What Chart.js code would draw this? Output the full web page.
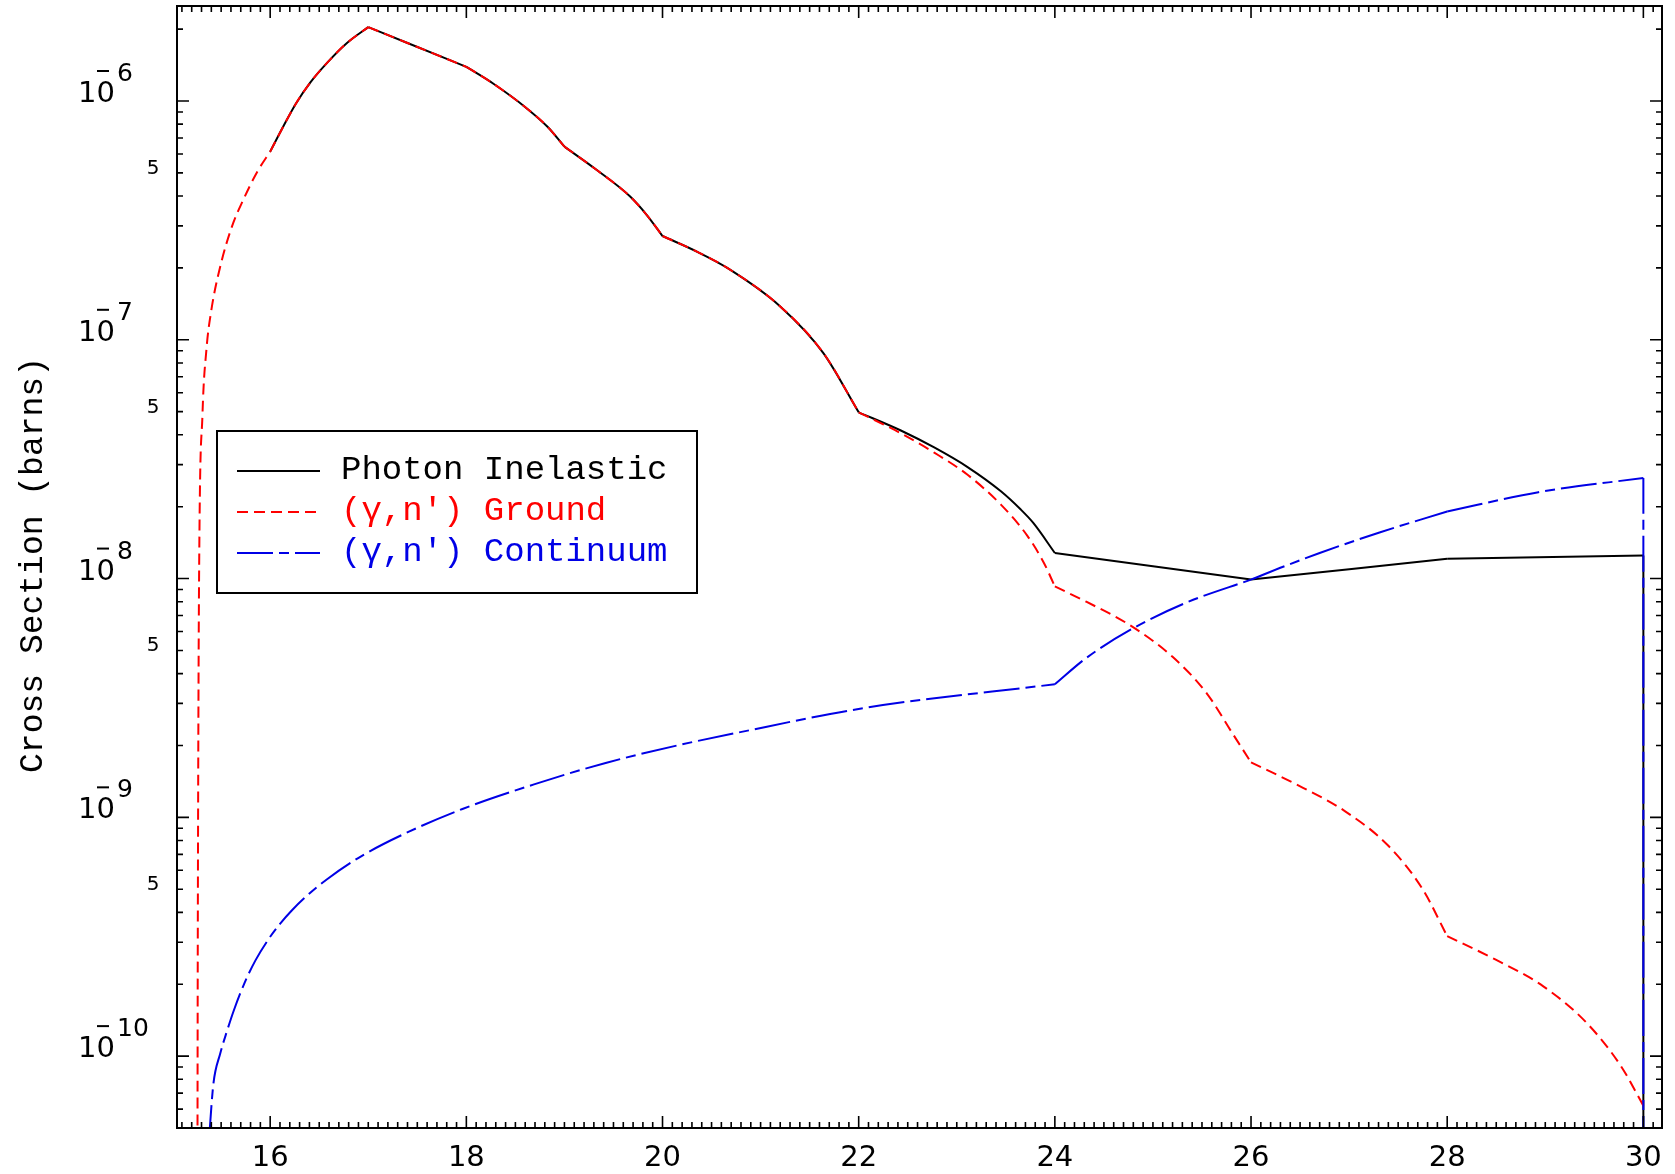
<!DOCTYPE html>
<html lang="en">

<head>
    <meta charset="UTF-8">
    <title>Cross Section</title>
    <script src="https://cdn.jsdelivr.net/npm/chart.js@4.4.1/dist/chart.umd.min.js"></script>
    <style>
        body { margin: 0; background: #ffffff; }
        #caixa { width: 1675px; height: 1174px; }
    </style>
</head>

<body>
    <div id="caixa"><canvas id="grafico" width="1675" height="1174"></canvas></div>
</body>

</html>

<script>
    // Photon Inelastic (preto)
    const inelasticoX = [16.00, 16.14, 16.26, 16.41, 16.58, 16.78, 17.00, 17.40, 18.00, 18.28, 18.62, 18.83,
        19.00, 19.33, 19.67, 19.84, 20.00, 20.36, 20.66, 21.20, 21.64, 22.00, 22.43, 22.77, 23.11, 23.45, 23.65, 23.78,
        24.00, 26.00, 28.00, 30.00, 30.00];
    const inelasticoY = [6.14e-7, 7.91e-7, 9.72e-7, 1.197e-6, 1.445e-6, 1.746e-6, 2.04e-6, 1.75e-6, 1.39e-6, 1.178e-6, 9.29e-7, 7.78e-7,
        6.44e-7, 5.14e-7, 3.98e-7, 3.33e-7, 2.72e-7, 2.33e-7, 2.0e-7, 1.38e-7, 8.8e-8, 4.97e-8, 4.17e-8, 3.54e-8, 2.93e-8, 2.32e-8, 1.95e-8, 1.71e-8,
        1.28e-8, 9.9e-9, 1.21e-8, 1.25e-8, 1e-12];
    const inelasticoQuebras = [16, 17, 18, 19, 20, 22, 24, 26, 28, 30];

    // (γ,n') Ground (vermelho)
    const groundX = [15.255, 15.26, 15.265, 15.275, 15.31, 15.35, 15.40, 15.49, 15.61, 15.73, 15.87,
        16.00, 16.14, 16.26, 16.41, 16.58, 16.78, 17.00, 17.40, 18.00, 18.28, 18.62, 18.83,
        19.00, 19.33, 19.67, 19.84, 20.00, 20.36, 20.66, 21.20, 21.64, 22.00,
        22.43, 22.77, 23.11, 23.45, 23.72, 23.89, 24.00, 24.32, 24.76, 25.20, 25.55, 25.81, 26.00,
        26.53, 26.96, 27.40, 27.75, 28.00, 28.49, 28.98, 29.42, 29.77, 30.00];
    const groundY = [1e-12, 1e-10, 1e-9, 1e-8, 4.9e-8, 9.1e-8, 1.33e-7, 2.02e-7, 2.98e-7, 3.89e-7, 5.07e-7,
        6.14e-7, 7.91e-7, 9.72e-7, 1.197e-6, 1.445e-6, 1.746e-6, 2.04e-6, 1.75e-6, 1.39e-6, 1.178e-6, 9.29e-7, 7.78e-7,
        6.44e-7, 5.14e-7, 3.98e-7, 3.33e-7, 2.72e-7, 2.33e-7, 2.0e-7, 1.38e-7, 8.8e-8, 4.97e-8,
        4.06e-8, 3.37e-8, 2.72e-8, 2.04e-8, 1.51e-8, 1.16e-8, 9.27e-9, 8.0e-9, 6.4e-9, 4.7e-9, 3.3e-9, 2.25e-9, 1.70e-9,
        1.33e-9, 1.06e-9, 7.6e-10, 5.0e-10, 3.18e-10, 2.54e-10, 1.96e-10, 1.38e-10, 9.1e-11, 6.2e-11];
    const groundQuebras = [16, 17, 18, 19, 20, 22, 24, 26, 28, 30];

    // (γ,n') Continuum (azul)
    const continuumX = [15.375, 15.42, 15.49, 15.56, 15.63, 15.74, 15.85, 16.00, 16.10, 16.22, 16.40, 16.58, 16.94,
        17.42, 17.96, 18.69, 19.42, 20.15, 20.76, 22.08, 24.00, 24.32, 24.80, 25.33, 26.00, 26.35, 26.70, 27.31,
        28.00, 28.93, 30.00, 30.00];
    const continuumY = [4.4e-11, 7.59e-11, 1.023e-10, 1.274e-10, 1.556e-10, 2.032e-10, 2.518e-10, 3.162e-10, 3.581e-10, 4.074e-10, 4.797e-10, 5.508e-10, 6.918e-10,
        8.73e-10, 1.084e-9, 1.374e-9, 1.69e-9, 2.0e-9, 2.26e-9, 2.88e-9, 3.61e-9, 4.65e-9, 6.2e-9, 7.9e-9, 9.9e-9, 1.13e-8, 1.28e-8, 1.56e-8,
        1.91e-8, 2.30e-8, 2.64e-8, 1e-12];
    const continuumQuebras = [24, 26, 28, 30];

    const ticksX = [16, 18, 20, 22, 24, 26, 28, 30];
    const expoentesY = [-6, -7, -8, -9, -10];
    const cincosY = [5e-7, 5e-8, 5e-9, 5e-10];

    const legendaNomes = ["Photon Inelastic", "(γ,n') Ground", "(γ,n') Continuum"];
    const cores = ["#000000", "#ff0000", "#0000e6"];
    const tracos = [[], [11, 6], [36, 6, 10, 6]];

    // quebra a serie nos cantos, cada pedaco vira uma curva suave
    function segmentar(xs, ys, quebras) {
        const partes = [];
        let atual = [];
        for (let i = 0; i < xs.length; i++) {
            atual.push({ x: xs[i], y: ys[i] });
            if (quebras.indexOf(xs[i]) !== -1 && atual.length > 1) {
                partes.push(atual);
                atual = [{ x: xs[i], y: ys[i] }];
            }
        }
        if (atual.length > 1) partes.push(atual);
        return partes;
    }

    const desenhoExtra = {
        id: 'desenhoExtra',
        afterDraw(chart) {
            const ctx = chart.ctx;
            const area = chart.chartArea;
            const sx = chart.scales.x;
            const sy = chart.scales.y;

            ctx.save();
            ctx.strokeStyle = '#000';
            ctx.fillStyle = '#000';
            ctx.lineWidth = 2;
            ctx.strokeRect(area.left, area.top, area.right - area.left, area.bottom - area.top);

            // ticks do eixo x (para dentro, embaixo e em cima)
            ctx.lineWidth = 1.6;
            for (let k = 151; k <= 301; k++) {
                const px = sx.getPixelForValue(k / 10);
                if (px < area.left + 1 || px > area.right - 1) continue;
                const tam = (k % 20 === 0) ? 12 : 6;
                ctx.beginPath();
                ctx.moveTo(px, area.bottom);
                ctx.lineTo(px, area.bottom - tam);
                ctx.moveTo(px, area.top);
                ctx.lineTo(px, area.top + tam);
                ctx.stroke();
            }

            // ticks do eixo y (log)
            for (let e = -11; e <= -6; e++) {
                for (let m = 1; m <= 9; m++) {
                    const v = m * Math.pow(10, e);
                    if (v < sy.min || v > sy.max) continue;
                    const py = sy.getPixelForValue(v);
                    const tam = (m === 1) ? 12 : 6;
                    ctx.beginPath();
                    ctx.moveTo(area.left, py);
                    ctx.lineTo(area.left + tam, py);
                    ctx.moveTo(area.right, py);
                    ctx.lineTo(area.right - tam, py);
                    ctx.stroke();
                }
            }

            // rotulos x
            ctx.font = '29px "DejaVu Sans"';
            ctx.textAlign = 'center';
            ctx.textBaseline = 'alphabetic';
            ticksX.forEach(function (t) {
                ctx.fillText(String(t), sx.getPixelForValue(t), 1166);
            });

            // rotulos y: 10 com expoente
            expoentesY.forEach(function (e) {
                const py = sy.getPixelForValue(Math.pow(10, e));
                ctx.font = '29px "DejaVu Sans"';
                ctx.textAlign = 'right';
                ctx.fillText('10', 115, py + 1);
                ctx.lineWidth = 2;
                ctx.beginPath();
                ctx.moveTo(97, py - 30);
                ctx.lineTo(109, py - 30);
                ctx.stroke();
                ctx.font = '25px "DejaVu Sans"';
                ctx.textAlign = 'left';
                ctx.fillText(String(-e), 117, py - 20);
            });

            ctx.font = '20px "DejaVu Sans"';
            ctx.textAlign = 'center';
            cincosY.forEach(function (v) {
                ctx.fillText('5', 153, sy.getPixelForValue(v) + 1);
            });

            // titulo do eixo y
            ctx.save();
            ctx.translate(42, 565);
            ctx.rotate(-Math.PI / 2);
            ctx.font = '33px "Liberation Mono"';
            ctx.textAlign = 'center';
            ctx.fillText('Cross Section (barns)', 0, 0);
            ctx.restore();

            // legenda
            ctx.fillStyle = '#ffffff';
            ctx.fillRect(217, 431, 480, 162);
            ctx.strokeStyle = '#000';
            ctx.lineWidth = 2;
            ctx.strokeRect(217, 431, 480, 162);
            ctx.font = '34px "Liberation Mono"';
            ctx.textAlign = 'left';
            for (let i = 0; i < legendaNomes.length; i++) {
                const base = 479 + i * 41;
                ctx.strokeStyle = cores[i];
                ctx.lineWidth = 2;
                ctx.setLineDash(tracos[i]);
                ctx.beginPath();
                ctx.moveTo(237, base - 8);
                ctx.lineTo(320, base - 8);
                ctx.stroke();
                ctx.setLineDash([]);
                ctx.fillStyle = cores[i];
                ctx.fillText(legendaNomes[i], 341, base);
            }
            ctx.restore();
        }
    };

    const series = [
        { xs: continuumX, ys: continuumY, quebras: continuumQuebras, cor: 2, ordem: 1 },
        { xs: groundX, ys: groundY, quebras: groundQuebras, cor: 1, ordem: 2 },
        { xs: inelasticoX, ys: inelasticoY, quebras: inelasticoQuebras, cor: 0, ordem: 3 }
    ];

    const conjuntos = [];
    series.forEach(function (s) {
        segmentar(s.xs, s.ys, s.quebras).forEach(function (parte) {
            conjuntos.push({
                label: legendaNomes[s.cor],
                data: parte,
                borderColor: cores[s.cor],
                borderWidth: 2,
                borderDash: tracos[s.cor],
                cubicInterpolationMode: 'monotone',
                order: s.ordem
            });
        });
    });

    const config = {
        type: 'line',
        data: { datasets: conjuntos },
        options: {
            responsive: false,
            devicePixelRatio: 1,
            animation: false,
            layout: { padding: { left: 177, top: 6, right: 13, bottom: 46 } },
            plugins: { legend: { display: false }, tooltip: { enabled: false } },
            elements: { point: { radius: 0 }, line: { fill: false } },
            scales: {
                x: { type: 'linear', min: 15.05, max: 30.19, display: false },
                y: { type: 'logarithmic', min: 5e-11, max: 2.5e-6, display: false }
            }
        },
        plugins: [desenhoExtra]
    };

    new Chart(document.getElementById('grafico'), config);
</script>
